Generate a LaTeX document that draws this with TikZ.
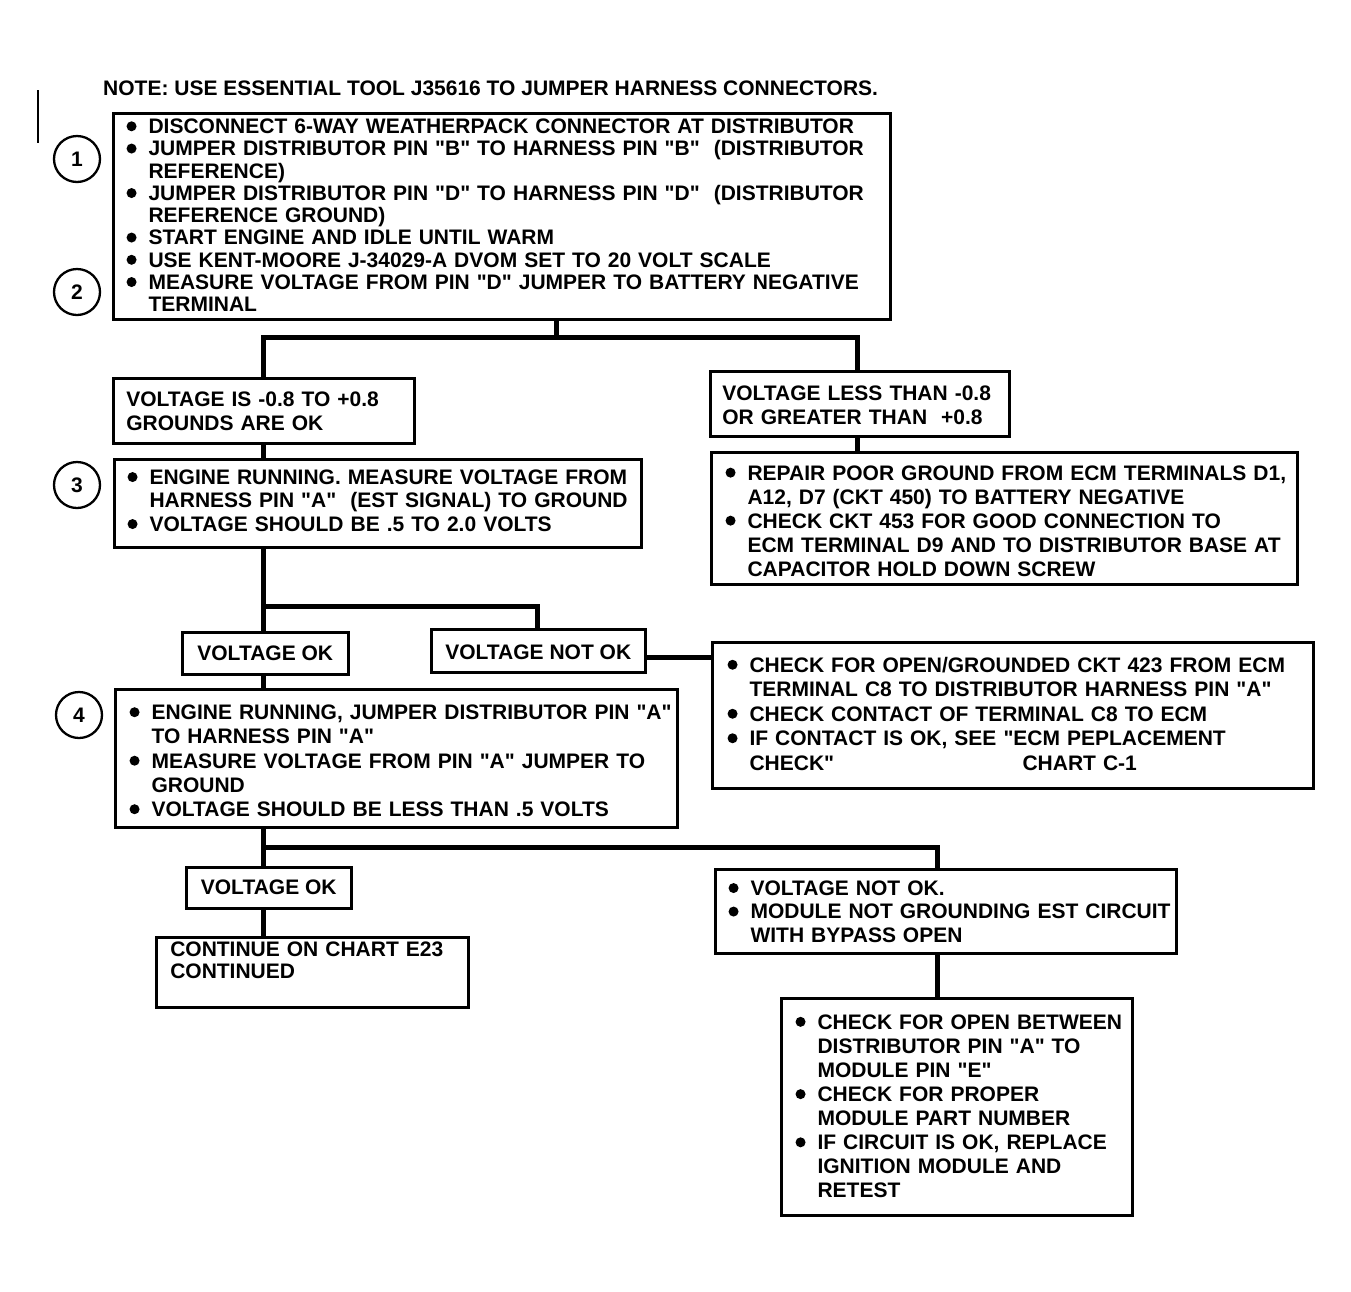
\documentclass[tikz,border=0pt]{standalone}
\usepackage{fontspec}
\newfontfamily\hv{Liberation Sans}
\newcommand\fsz[1]{\hv\fontsize{21}{#1}\selectfont\bfseries}
\newcommand\bul{\makebox[22pt][l]{\tikz[baseline=0pt]\fill (0pt,7.4pt) circle (5pt);}}
\newcommand\dn[2]{\raisebox{0pt}[\dimexpr\height+#1\relax][\depth]{#2}}
\begin{document}
\begin{tikzpicture}[x=1pt,y=-1pt,
  box/.style={draw, line width=2.5pt, anchor=north west, align=left, inner ysep=0pt, font=\fsz{24}},
  cbox/.style={draw, line width=2.5pt, anchor=north west, align=center, inner sep=0pt, font=\fsz{24}},
  numc/.style={circle, draw, line width=2.3pt, minimum size=46pt, inner sep=0pt, font=\fsz{24}},
  conn/.style={line width=5pt, line join=miter},
  strayline/.style={line width=2pt}
]
\fill[white] (0,0) rectangle (1351,1291);
\useasboundingbox (0,0) rectangle (1351,1291);

\draw[strayline] (38,90) -- (38,143);

\node[anchor=base west, inner sep=0pt, font=\fsz{24}] (note) at (103,95)
  {NOTE: USE ESSENTIAL TOOL J35616 TO JUMPER HARNESS CONNECTORS.};

\node[box, text width=750.4pt, inner xsep=13.3pt, minimum height=206pt, font=\fsz{22.25}] (b1) at (112,112) {\dn{4pt}{%
\begin{tabular}{@{}l@{}l@{}}
\bul & DISCONNECT 6-WAY WEATHERPACK CONNECTOR AT DISTRIBUTOR\\
\bul & JUMPER DISTRIBUTOR PIN "B" TO HARNESS PIN "B" \ (DISTRIBUTOR\\
 & REFERENCE)\\
\bul & JUMPER DISTRIBUTOR PIN "D" TO HARNESS PIN "D" \ (DISTRIBUTOR\\
 & REFERENCE GROUND)\\
\bul & START ENGINE AND IDLE UNTIL WARM\\
\bul & USE KENT-MOORE J-34029-A DVOM SET TO 20 VOLT SCALE\\
\bul & MEASURE VOLTAGE FROM PIN "D" JUMPER TO BATTERY NEGATIVE\\
 & TERMINAL
\end{tabular}}};

\node[numc] (n1) at (77,159) {1};
\node[numc] (n2) at (77,292) {2};
\node[numc] (n3) at (77,485) {3};
\node[numc] (n4) at (79,715) {4};

\node[box, text width=275pt, inner xsep=13pt, minimum height=65pt] (vis) at (112,377) {\dn{6pt}{%
\begin{tabular}{@{}l@{}}
VOLTAGE IS -0.8 TO +0.8\\
GROUNDS ARE OK
\end{tabular}}};

\node[box, text width=500.4pt, inner xsep=13.3pt, minimum height=88pt, font=\fsz{23.5}] (b3) at (113,458) {%
\begin{tabular}{@{}l@{}l@{}}
\bul & ENGINE RUNNING. MEASURE VOLTAGE FROM\\
 & HARNESS PIN "A" \ (EST SIGNAL) TO GROUND\\
\bul & VOLTAGE SHOULD BE .5 TO 2.0 VOLTS
\end{tabular}};

\node[box, text width=275pt, inner xsep=12pt, minimum height=65pt] (vless) at (709,370) {\dn{8pt}{%
\begin{tabular}{@{}l@{}}
VOLTAGE LESS THAN -0.8\\
OR GREATER THAN \ +0.8
\end{tabular}}};

\node[box, text width=557.4pt, inner xsep=14.3pt, minimum height=132pt] (r1) at (710,451) {\dn{10pt}{%
\begin{tabular}{@{}l@{}l@{}}
\bul & REPAIR POOR GROUND FROM ECM TERMINALS D1,\\
 & A12, D7 (CKT 450) TO BATTERY NEGATIVE\\
\bul & CHECK CKT 453 FOR GOOD CONNECTION TO\\
 & ECM TERMINAL D9 AND TO DISTRIBUTOR BASE AT\\
 & CAPACITOR HOLD DOWN SCREW
\end{tabular}}};

\node[cbox, minimum width=166pt, minimum height=42pt] (vok) at (181,631) {VOLTAGE OK};
\node[cbox, minimum width=214pt, minimum height=43pt] (vnok) at (430,628) {\dn{4pt}{VOLTAGE NOT OK}};

\node[box, text width=570.4pt, inner xsep=15.3pt, minimum height=146pt, font=\fsz{24.5}] (r2) at (711,641) {\dn{2pt}{%
\begin{tabular}{@{}l@{}l@{}}
\bul & CHECK FOR OPEN/GROUNDED CKT 423 FROM ECM\\
 & TERMINAL C8 TO DISTRIBUTOR HARNESS PIN "A"\\
\bul & CHECK CONTACT OF TERMINAL C8 TO ECM\\
\bul & IF CONTACT IS OK, SEE "ECM PEPLACEMENT\\
 & \makebox[273pt][l]{CHECK"}CHART C-1
\end{tabular}}};

\node[box, text width=533.4pt, inner xsep=14.3pt, minimum height=138pt, font=\fsz{24.25}] (b4) at (114,688) {\dn{10pt}{%
\begin{tabular}{@{}l@{}l@{}}
\bul & ENGINE RUNNING, JUMPER DISTRIBUTOR PIN "A"\\
 & TO HARNESS PIN "A"\\
\bul & MEASURE VOLTAGE FROM PIN "A" JUMPER TO\\
 & GROUND\\
\bul & VOLTAGE SHOULD BE LESS THAN .5 VOLTS
\end{tabular}}};

\node[cbox, minimum width=165pt, minimum height=41pt] (vok2) at (185,866) {VOLTAGE OK};

\node[box, text width=284pt, inner xsep=14pt, minimum height=70pt, font=\fsz{22}] (cont) at (155,936) {\dn{4pt}{%
\begin{tabular}{@{}l@{}}
CONTINUE ON CHART E23\\
CONTINUED\\
\mbox{}
\end{tabular}}};

\node[box, text width=434.4pt, inner xsep=13.3pt, minimum height=84pt, font=\fsz{23.5}] (vnok2) at (714,868) {\dn{6pt}{%
\begin{tabular}{@{}l@{}l@{}}
\bul & VOLTAGE NOT OK.\\
\bul & MODULE NOT GROUNDING EST CIRCUIT\\
 & WITH BYPASS OPEN
\end{tabular}}};

\node[box, text width=322.4pt, inner xsep=14.3pt, minimum height=217pt, font=\fsz{24.1}] (last) at (780,997) {\dn{4pt}{%
\begin{tabular}{@{}l@{}l@{}}
\bul & CHECK FOR OPEN BETWEEN\\
 & DISTRIBUTOR PIN "A" TO\\
 & MODULE PIN "E"\\
\bul & CHECK FOR PROPER\\
 & MODULE PART NUMBER\\
\bul & IF CIRCUIT IS OK, REPLACE\\
 & IGNITION MODULE AND\\
 & RETEST
\end{tabular}}};

\coordinate (cL) at (263,0);
\coordinate (cR) at (857,0);
\coordinate (cM) at (537,0);
\coordinate (cN) at (937,0);
\coordinate (cT) at (556,0);
\coordinate (h1) at (0,337);
\coordinate (h2) at (0,606);
\coordinate (h3) at (0,657);
\coordinate (h4) at (0,847);

\draw[conn] (b1.south -| cT) -- (cT |- h1);
\draw[conn] (vis.north -| cL) -- (cL |- h1) -- (cR |- h1) -- (vless.north -| cR);
\draw[conn] (vis.south -| cL) -- (b3.north -| cL);
\draw[conn] (vless.south -| cR) -- (r1.north -| cR);
\draw[conn] (b3.south -| cL) -- (vok.north -| cL);
\draw[conn] (cL |- h2) -- (cM |- h2) -- (vnok.north -| cM);
\draw[conn] (vok.south -| cL) -- (b4.north -| cL);
\draw[conn] (vnok.east |- h3) -- (r2.west |- h3);
\draw[conn] (b4.south -| cL) -- (vok2.north -| cL);
\draw[conn] (cL |- h4) -- (cN |- h4) -- (vnok2.north -| cN);
\draw[conn] (vok2.south -| cL) -- (cont.north -| cL);
\draw[conn] (vnok2.south -| cN) -- (last.north -| cN);
\end{tikzpicture}
\end{document}
